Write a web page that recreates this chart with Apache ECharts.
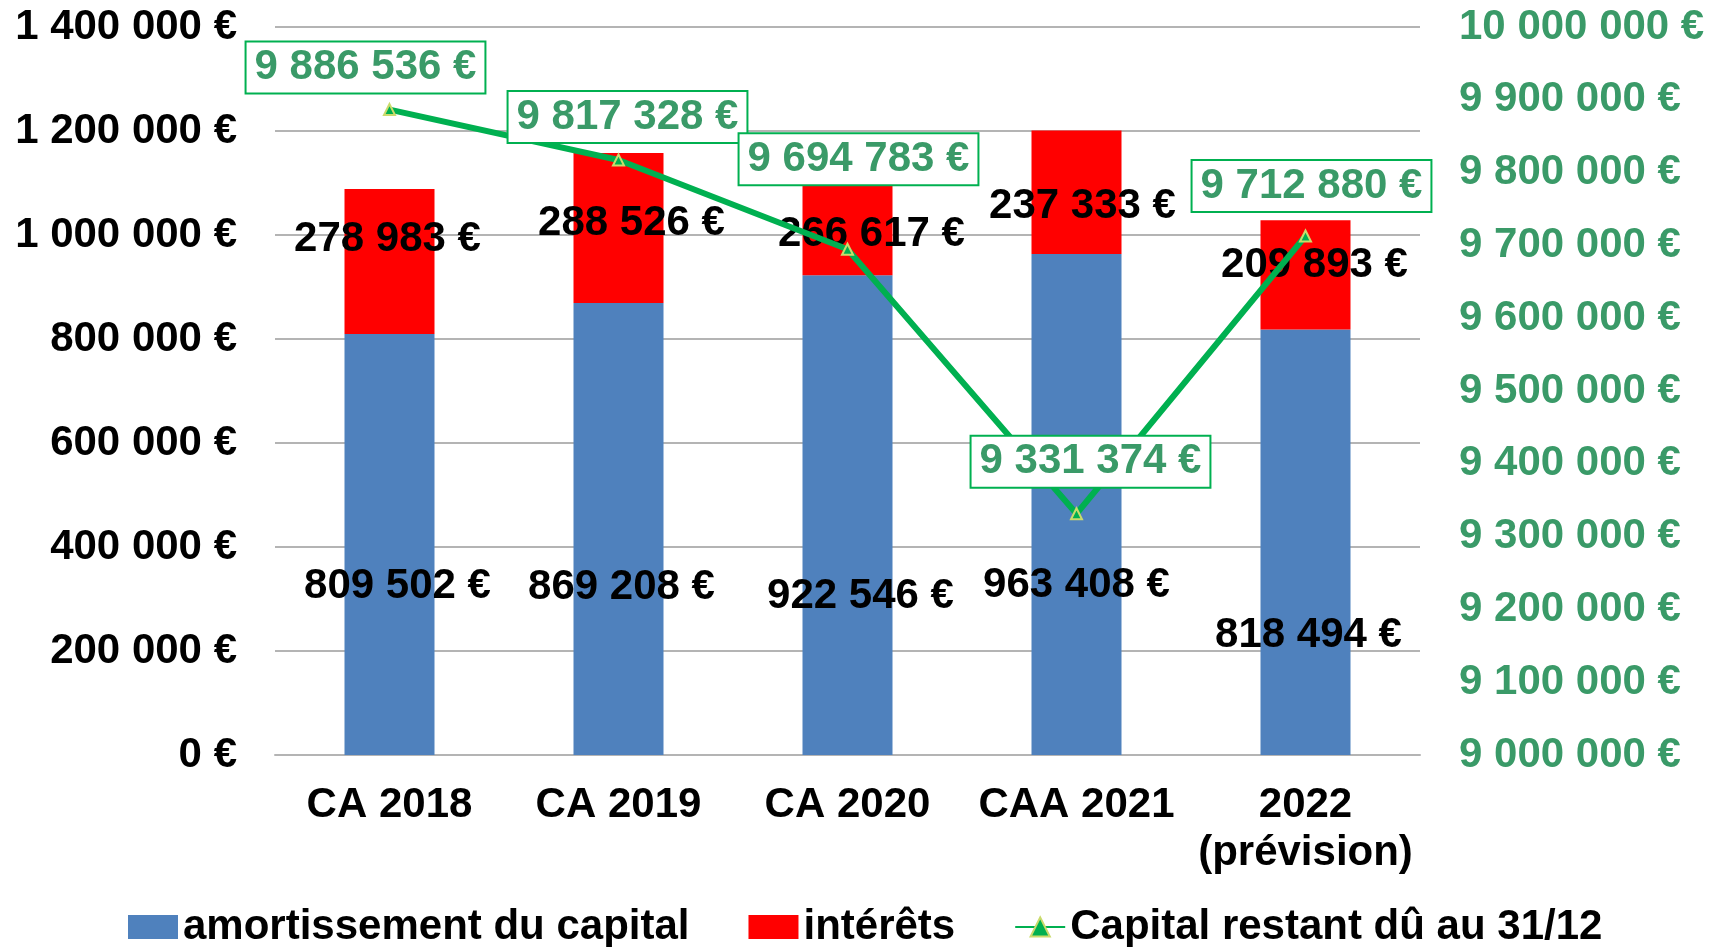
<!DOCTYPE html>
<html>
<head>
<meta charset="utf-8">
<title>Dette</title>
<script src="https://cdn.jsdelivr.net/npm/echarts@6/dist/echarts.min.js"></script>
<style>
  html, body { margin: 0; padding: 0; background: #fff; }
  #chart { width: 1718px; height: 947px; }
</style>
</head>
<body>
<div id="chart"></div>
<script>
// données
var categories = ['CA 2018', 'CA 2019', 'CA 2020', 'CAA 2021', '2022\n(prévision)'];
var amortissement = [809502, 869208, 922546, 963408, 818494];
var interets = [278983, 288526, 266617, 237333, 209893];
var capitalRestant = [9886536, 9817328, 9694783, 9331374, 9712880];

// position des étiquettes (décalage manuel comme dans le classeur)
var offsetsAmort = [[8, 42], [3, 58], [13, 81], [0, 81], [3, 93]];
var offsetsInterets = [[-2, -22], [13, -5], [24, 28], [6, 14], [9, -9]];
var offsetsCapital = [[-24, -42], [9, -43], [11, -90], [14, -52], [6, -50]];

var FONT = "'Liberation Sans', Arial, sans-serif";
var GREEN = '#00B050';
var GREEN_TXT = '#3A9A68';

// 1234567 -> "1 234 567 €"
function euro(v) {
  return String(v).replace(/\B(?=(\d{3})+(?!\d))/g, ' ') + ' €';
}

function withOffsets(values, offsets) {
  return values.map(function (v, i) {
    return { value: v, label: { offset: offsets[i] } };
  });
}

var chart = echarts.init(document.getElementById('chart'));

chart.setOption({
  animation: false,
  textStyle: { fontFamily: FONT },
  grid: {
    left: 275,
    right: 298,
    top: 27,
    bottom: 192
  },
  legend: {
    left: 123,
    top: 901,
    itemWidth: 50,
    itemHeight: 24,
    itemGap: 59,
    textStyle: { fontSize: 42, fontWeight: 'bold', color: '#000', fontFamily: FONT },
    data: [
      { name: 'amortissement du capital', icon: 'rect' },
      { name: 'intérêts', icon: 'rect' },
      'Capital restant dû au 31/12'
    ]
  },
  xAxis: {
    type: 'category',
    data: categories,
    axisTick: { show: false },
    axisLine: { lineStyle: { color: '#B4B4B4', width: 2 } },
    axisLabel: {
      interval: 0,
      margin: 26,
      fontSize: 42,
      fontWeight: 'bold',
      color: '#000',
      lineHeight: 48
    }
  },
  yAxis: [{
    type: 'value',
    min: 0,
    max: 1400000,
    interval: 200000,
    axisLine: { show: false },
    axisTick: { show: false },
    splitLine: { lineStyle: { color: '#B4B4B4', width: 2 } },
    axisLabel: {
      margin: 38,
      fontSize: 42,
      fontWeight: 'bold',
      color: '#000',
      formatter: euro
    }
  }, {
    type: 'value',
    min: 9000000,
    max: 10000000,
    interval: 100000,
    axisLine: { show: false },
    axisTick: { show: false },
    splitLine: { show: false },
    axisLabel: {
      margin: 39,
      fontSize: 42,
      fontWeight: 'bold',
      color: GREEN_TXT,
      formatter: euro
    }
  }],
  series: [{
    name: 'amortissement du capital',
    type: 'bar',
    stack: 'annuite',
    barWidth: 90,
    itemStyle: { color: '#4F81BD' },
    label: {
      show: true,
      position: 'inside',
      fontSize: 42,
      fontWeight: 'bold',
      color: '#000',
      formatter: function (p) { return euro(p.value); }
    },
    data: withOffsets(amortissement, offsetsAmort)
  }, {
    name: 'intérêts',
    type: 'bar',
    stack: 'annuite',
    barWidth: 90,
    itemStyle: { color: '#FF0000' },
    label: {
      show: true,
      position: 'inside',
      fontSize: 42,
      fontWeight: 'bold',
      color: '#000',
      formatter: function (p) { return euro(p.value); }
    },
    data: withOffsets(interets, offsetsInterets)
  }, {
    name: 'Capital restant dû au 31/12',
    type: 'line',
    yAxisIndex: 1,
    z: 5,
    symbol: 'triangle',
    symbolSize: 11,
    lineStyle: { color: GREEN, width: 6 },
    itemStyle: { color: GREEN, borderColor: '#CADB6C', borderWidth: 2 },
    label: {
      show: true,
      position: 'inside',
      fontSize: 42,
      fontWeight: 'bold',
      color: GREEN_TXT,
      backgroundColor: '#fff',
      borderColor: GREEN,
      borderWidth: 2,
      padding: [5, 8, 3, 8],
      formatter: function (p) { return euro(p.value); }
    },
    data: withOffsets(capitalRestant, offsetsCapital)
  }]
});
</script>
</body>
</html>
